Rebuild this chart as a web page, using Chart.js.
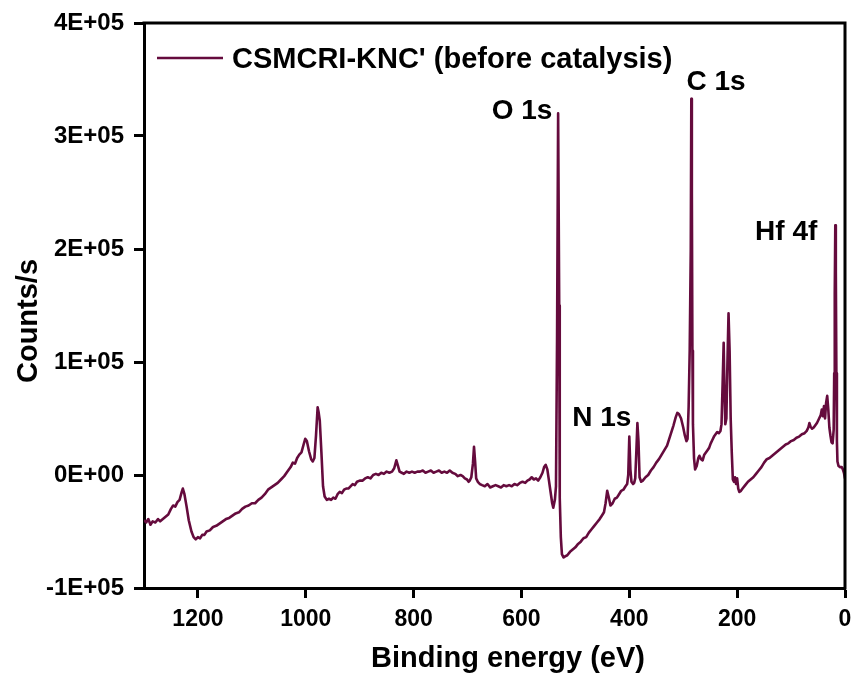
<!DOCTYPE html>
<html>
<head>
<meta charset="utf-8">
<script src="https://cdn.jsdelivr.net/npm/chart.js@4.4.1/dist/chart.umd.min.js"></script>
<style>
  html, body { margin: 0; padding: 0; background: #ffffff; }
  #wrap { width: 854px; height: 675px; }
</style>
</head>
<body>
<div id="wrap"><canvas id="xps" width="854" height="675"></canvas></div>
<script>
// XPS survey spectrum: binding energy (eV) and intensity (counts/s)
const bindingEnergy = [
  1300, 1296, 1292, 1288, 1284, 1279, 1274, 1270, 1265, 1260, 1255, 1250, 1246, 1242, 1238, 1234, 1230, 1228, 1225, 1221,
  1217, 1212, 1208, 1204, 1200, 1196, 1192, 1188, 1184, 1178, 1172, 1166, 1160, 1154, 1148, 1142, 1136, 1130, 1124, 1118,
  1112, 1106, 1100, 1094, 1088, 1082, 1076, 1070, 1064, 1058, 1052, 1046, 1040, 1034, 1028, 1024, 1020, 1016, 1012, 1008,
  1004, 1001, 998, 994, 990, 987, 984, 981, 978, 976, 974, 971, 968, 965, 961, 957, 953, 949, 945, 941,
  937, 933, 929, 925, 921, 917, 913, 909, 905, 900, 895, 890, 885, 880, 875, 870, 865, 860, 855, 850,
  845, 840, 836, 832, 829, 826, 822, 818, 813, 808, 803, 798, 793, 788, 783, 778, 773, 768, 763, 758,
  753, 748, 743, 738, 733, 728, 723, 718, 713, 709, 705, 701, 698, 696, 693, 690, 688, 686, 684, 681,
  677, 673, 668, 663, 658, 653, 648, 643, 638, 633, 628, 623, 618, 613, 608, 603, 598, 593, 589, 585,
  581, 577, 573, 569, 565, 561, 558, 555, 552, 549, 546, 543, 541, 538, 536, 534, 532, 530, 529, 527,
  525, 522, 519, 515, 510, 505, 500, 495, 490, 485, 480, 475, 470, 465, 460, 455, 451, 447, 444, 441,
  438, 435, 431, 427, 423, 419, 415, 411, 407, 404, 402, 400, 398, 396, 393, 391, 389, 387, 385, 383,
  381, 378, 375, 370, 365, 360, 355, 350, 345, 340, 335, 330, 326, 322, 318, 314, 311, 308, 304, 300,
  297, 294, 292, 290, 288, 286, 285, 284, 283, 282, 280, 278, 275, 272, 270, 267, 264, 261, 258, 255,
  252, 249, 246, 243, 240, 237, 234, 231, 229, 227, 225, 223.5, 222, 220, 218, 216, 214, 212, 210, 208,
  206, 204, 202, 200, 198, 196, 193, 190, 185, 180, 175, 170, 165, 160, 155, 150, 145, 140, 135, 130,
  125, 120, 115, 110, 105, 100, 95, 90, 85, 80, 75, 71, 68, 66, 64, 61, 58, 55, 52, 48,
  45, 43, 41, 39, 37, 35, 33, 31, 29, 27, 25, 23, 21, 20, 19, 18, 17, 16, 15, 14,
  12, 9, 6, 4, 2, 0
];
const countsPerSec = [
  -40000, -42000, -39000, -44000, -41000, -42000, -39000, -41000, -39000, -37000, -35000, -30000, -27000, -28000, -24000, -22000, -15000, -12000, -17000, -28000,
  -40000, -50000, -55000, -57000, -55000, -56000, -53000, -53000, -50000, -49000, -46000, -45000, -43000, -41000, -39000, -38000, -36000, -34000, -33000, -30000,
  -28000, -27000, -25000, -25000, -22000, -20000, -17000, -13000, -11000, -9000, -7000, -4000, -1000, 3000, 7000, 11000, 10000, 15000, 18000, 20000,
  27000, 32000, 30000, 21000, 14000, 12000, 15000, 35000, 60000, 55000, 48000, 20000, -10000, -19000, -22000, -21000, -22000, -20000, -21000, -17000,
  -15000, -16000, -13000, -12000, -12000, -10000, -8000, -9000, -6000, -5000, -5000, -3000, -2000, -3000, 0, 1000, 0, 2000, 1000, 3000,
  2000, 3000, 6000, 13000, 8000, 3000, 2000, 1000, 3000, 2000, 3000, 2000, 3000, 3000, 4000, 2000, 3000, 4000, 2000, 3000,
  4000, 2000, 3000, 2000, 4000, 2000, 1000, -1000, 0, -1000, -3000, -4000, -6000, -5000, -2000, 10000, 25000, 12000, -3000, -6000,
  -8000, -9000, -10000, -8000, -11000, -10000, -9000, -10000, -11000, -9000, -10000, -9000, -10000, -8000, -9000, -7000, -6000, -7000, -5000, -4000,
  -2000, -4000, -3000, -5000, -2000, 2000, 7000, 9000, 5000, -5000, -15000, -25000, -29000, -22000, -10000, 120000, 320000, 150000, -20000, -55000,
  -70000, -73000, -72000, -71000, -68000, -66000, -64000, -61000, -59000, -56000, -55000, -51000, -48000, -45000, -42000, -39000, -36000, -33000, -25000, -14000,
  -20000, -27000, -25000, -21000, -20000, -17000, -14000, -13000, -10000, -8000, 0, 34000, 5000, -6000, -8000, -7000, -3000, 20000, 46000, 30000,
  -2000, -6000, -5000, -2000, 0, 4000, 7000, 11000, 14000, 18000, 22000, 26000, 32000, 38000, 44000, 51000, 55000, 54000, 50000, 42000,
  35000, 30000, 32000, 60000, 110000, 200000, 333000, 250000, 110000, 45000, 15000, 5000, 8000, 15000, 17000, 14000, 13000, 18000, 20000, 22000,
  24000, 28000, 31000, 34000, 36000, 38000, 37000, 39000, 45000, 80000, 117000, 75000, 45000, 50000, 100000, 143000, 110000, 50000, 20000, -4000,
  -6000, -2000, -8000, -3000, -12000, -15000, -14000, -12000, -9000, -6000, -4000, -2000, 1000, 4000, 7000, 11000, 14000, 15000, 17000, 19000,
  21000, 23000, 25000, 27000, 28000, 30000, 31000, 33000, 34000, 36000, 37000, 39000, 42000, 46000, 43000, 41000, 42000, 44000, 46000, 50000,
  53000, 58000, 52000, 61000, 50000, 64000, 70000, 58000, 42000, 35000, 29000, 28000, 40000, 90000, 160000, 221000, 180000, 90000, 30000, 12000,
  8000, 7000, 7000, 5000, 2000, -3000
];

// Axis ticks
const xTicks = [1200, 1000, 800, 600, 400, 200, 0];
const xTickLabels = ['1200', '1000', '800', '600', '400', '200', '0'];
const yTicks = [-100000, 0, 100000, 200000, 300000, 400000];
const yTickLabels = ['-1E+05', '0E+00', '1E+05', '2E+05', '3E+05', '4E+05'];

// Peak assignments placed at (binding energy, counts) positions
const peakNames = ['O 1s', 'N 1s', 'C 1s', 'Hf 4f'];
const peakLabelE = [599, 451, 239, 109];
const peakLabelY = [315000, 43000, 341000, 208000];

const seriesName = "CSMCRI-KNC' (before catalysis)";
const lineColor = '#650b3d';
const FONT = '"Liberation Sans", Arial, Helvetica, sans-serif';

const points = bindingEnergy.map((e, i) => ({ x: e, y: countsPerSec[i] }));

const decorations = {
  id: 'decorations',
  afterDatasetsDraw(chart) {
    const { ctx, chartArea: a, scales } = chart;
    ctx.save();
    // closing frame on top and right
    ctx.strokeStyle = '#000';
    ctx.lineWidth = 3;
    ctx.beginPath();
    ctx.moveTo(a.left - 1.5, a.top);
    ctx.lineTo(a.right, a.top);
    ctx.lineTo(a.right, a.bottom + 1.5);
    ctx.stroke();

    // legend inside the plot
    ctx.strokeStyle = lineColor;
    ctx.lineWidth = 2.5;
    ctx.beginPath();
    ctx.moveTo(a.left + 13, a.top + 35);
    ctx.lineTo(a.left + 79, a.top + 35);
    ctx.stroke();
    ctx.fillStyle = '#000';
    ctx.font = 'bold 29px ' + FONT;
    ctx.textAlign = 'left';
    ctx.textBaseline = 'alphabetic';
    ctx.fillText(seriesName, a.left + 88, a.top + 45);

    // peak labels
    ctx.font = 'bold 28px ' + FONT;
    ctx.textAlign = 'center';
    peakNames.forEach((name, i) => {
      const px = scales.x.getPixelForValue(peakLabelE[i]);
      const py = scales.y.getPixelForValue(peakLabelY[i]);
      ctx.fillText(name, px, py);
    });

    // axis titles
    ctx.font = 'bold 29px ' + FONT;
    ctx.textAlign = 'center';
    ctx.fillText('Binding energy (eV)', 508, 667);
    ctx.save();
    ctx.translate(37, 321);
    ctx.rotate(-Math.PI / 2);
    ctx.fillText('Counts/s', 0, 0);
    ctx.restore();
    ctx.restore();
  }
};

new Chart(document.getElementById('xps'), {
  type: 'scatter',
  data: {
    datasets: [{
      label: seriesName,
      data: points,
      showLine: true,
      borderColor: lineColor,
      backgroundColor: lineColor,
      borderWidth: 2.6,
      pointRadius: 0,
      pointHoverRadius: 0,
      tension: 0,
      borderJoinStyle: 'round'
    }]
  },
  options: {
    responsive: false,
    animation: false,
    devicePixelRatio: 1,
    layout: { padding: { top: 23, right: 9, left: 0, bottom: 0 } },
    plugins: { legend: { display: false }, tooltip: { enabled: false } },
    scales: {
      x: {
        type: 'linear',
        reverse: true,
        min: 0,
        max: 1300,
        afterBuildTicks(scale) { scale.ticks = xTicks.map(v => ({ value: v })); },
        afterFit(scale) { scale.height = 87; scale.paddingLeft = 0; scale.paddingRight = 0; },
        border: { display: true, color: '#000', width: 3 },
        grid: { display: true, drawOnChartArea: false, drawTicks: true, tickLength: 10, tickWidth: 3, tickColor: '#000' },
        ticks: {
          color: '#000',
          padding: 8,
          font: { family: FONT, size: 23, weight: 'bold' },
          callback: (v) => { const k = xTicks.indexOf(v); return k >= 0 ? xTickLabels[k] : ''; }
        }
      },
      y: {
        type: 'linear',
        min: -100000,
        max: 400000,
        afterBuildTicks(scale) { scale.ticks = yTicks.map(v => ({ value: v })); },
        afterFit(scale) { scale.width = 144; scale.paddingTop = 0; scale.paddingBottom = 0; },
        border: { display: true, color: '#000', width: 3 },
        grid: { display: true, drawOnChartArea: false, drawTicks: true, tickLength: 10, tickWidth: 3, tickColor: '#000' },
        ticks: {
          color: '#000',
          padding: 10,
          font: { family: FONT, size: 24, weight: 'bold' },
          callback: (v) => { const k = yTicks.indexOf(v); return k >= 0 ? yTickLabels[k] : ''; }
        }
      }
    }
  },
  plugins: [decorations]
});
</script>
</body>
</html>
